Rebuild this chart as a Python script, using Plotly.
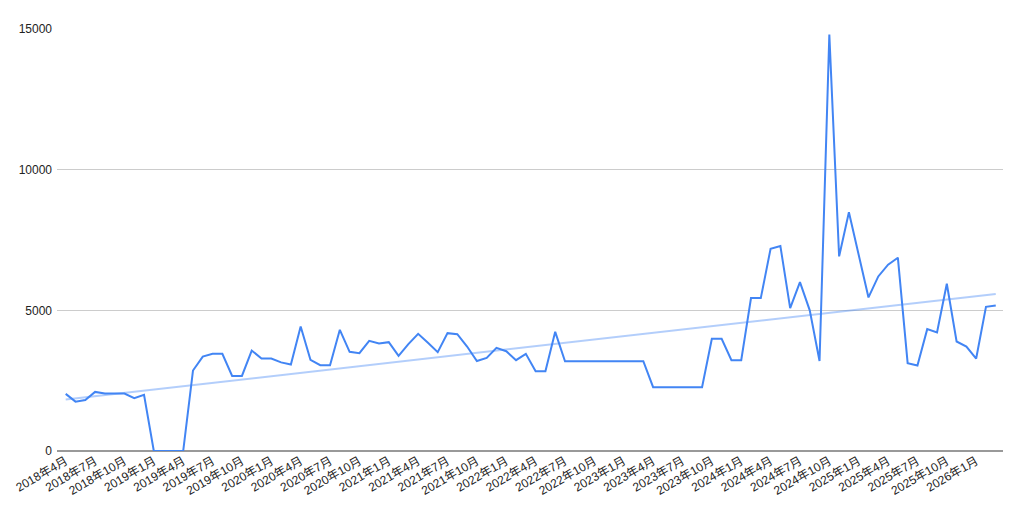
import numpy as np
import plotly.graph_objects as go

start_year, start_month = 2018, 4
values = [
    2030, 1755, 1815, 2100, 2040, 2040, 2040, 1875, 1994,
    0, 0, 0, 0,
    2860, 3357, 3453, 3453, 2670, 2670, 3571, 3286, 3286, 3150, 3073,
    4425, 3240, 3050, 3050, 4308, 3524, 3477, 3916, 3820, 3869, 3382,
    3797, 4165, 3845, 3513, 4189, 4154, 3714, 3200, 3311, 3667, 3548,
    3228, 3453, 2836, 2836, 4236,
    3192, 3192, 3192, 3192, 3192, 3192, 3192, 3192, 3192,
    2267, 2267, 2267, 2267, 2267, 2267,
    3987, 3987, 3228, 3228, 5435, 5435, 7191, 7286, 5079, 6004, 5000,
    3200, 14800, 6917, 8484, 6977, 5458, 6205, 6622, 6871, 3121, 3038,
    4331, 4213, 5945, 3892, 3714, 3287, 5126, 5174,
]

months = []
for i in range(len(values)):
    m = start_month - 1 + i
    months.append(f"{start_year + m // 12}年{m % 12 + 1}月")

x = list(range(len(values)))
tick_idx = x[::3]
tick_text = [months[i] for i in tick_idx]

coef = np.polyfit(x, values, 1)
trend = np.polyval(coef, x)

fig = go.Figure()
fig.add_trace(go.Scatter(x=x, y=trend, mode="lines",
                         line=dict(color="rgba(66,133,244,0.4)", width=2),
                         hoverinfo="skip", showlegend=False))
fig.add_trace(go.Scatter(x=x, y=values, mode="lines",
                         line=dict(color="#4285F4", width=2),
                         showlegend=False))

fig.update_layout(
    width=1016, height=508,
    margin=dict(l=49, r=21, t=21, b=65, autoexpand=False),
    paper_bgcolor="white", plot_bgcolor="white",
    font=dict(family="Arial, Liberation Sans, Noto Sans CJK JP, sans-serif", size=12, color="#222"),
    xaxis=dict(range=[-0.89, 95.74], tickmode="array", tickvals=tick_idx, ticktext=tick_text,
               tickangle=-30, showgrid=False, zeroline=False, showline=False, ticks="",
               automargin=False),
    yaxis=dict(range=[0, 15000], tickvals=[0, 5000, 10000, 15000], ticktext=["0", "5000", "10000", "15000"],
               showgrid=True, gridcolor="#cccccc", gridwidth=1, zeroline=True, zerolinecolor="#999999",
               zerolinewidth=2, ticks="", ticklabelstandoff=4, automargin=False),
)

fig.write_html("out.html")
